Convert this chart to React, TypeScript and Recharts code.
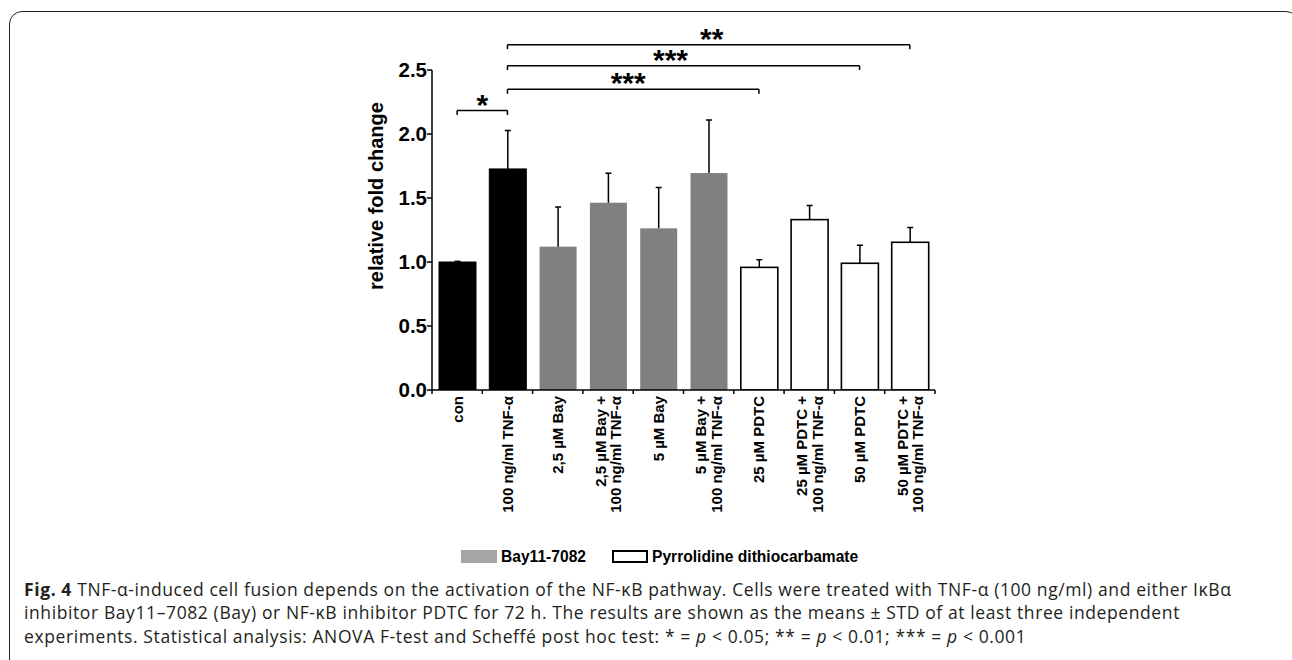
import React from 'react';
import { BarChart, Bar, XAxis, YAxis, ReferenceLine } from 'recharts';

const categories = [
  'con',
  '100 ng/ml TNF-α',
  '2,5 µM Bay',
  '2,5 µM Bay +\n100 ng/ml TNF-α',
  '5 µM Bay',
  '5 µM Bay +\n100 ng/ml TNF-α',
  '25 µM PDTC',
  '25 µM PDTC +\n100 ng/ml TNF-α',
  '50 µM PDTC',
  '50 µM PDTC +\n100 ng/ml TNF-α',
];
const means = [1.0, 1.727, 1.12, 1.463, 1.263, 1.695, 0.958, 1.331, 0.99, 1.154];
const stds = [0.005, 0.3, 0.31, 0.23, 0.32, 0.415, 0.06, 0.11, 0.14, 0.115];
const groups = ['control', 'control', 'bay', 'bay', 'bay', 'bay', 'pdtc', 'pdtc', 'pdtc', 'pdtc'];
const yTicks = [0, 0.5, 1.0, 1.5, 2.0, 2.5];

const sigFrom = [0, 1, 1, 1];
const sigTo = [1, 6, 8, 9];
const sigLevel = [2.183, 2.349, 2.534, 2.698];
const sigLabel = ['*', '***', '***', '**'];

const legendLabels = ['Bay11-7082', 'Pyrrolidine dithiocarbamate'];

const captionLines = [
  'TNF-α-induced cell fusion depends on the activation of the NF-κB pathway. Cells were treated with TNF-α (100 ng/ml) and either IκBα',
  'inhibitor Bay11–7082 (Bay) or NF-κB inhibitor PDTC for 72 h. The results are shown as the means ± STD of at least three independent',
];

const data = categories.map((c, i) => ({ name: c, value: means[i], err: stds[i], group: groups[i] }));

const FONT = '"Liberation Sans", Arial, Helvetica, sans-serif';
const CAP_FONT = '"Open Sans", "Noto Sans", sans-serif';

const CH_W = 1292;
const CH_H = 560;
const MARGIN = { top: 70, right: 357, bottom: 40, left: 372 };
const Y_W = 60;
const X_H = 130;
const PLOT_W = CH_W - MARGIN.left - MARGIN.right - Y_W;
const HALF_BAND = PLOT_W / categories.length / 2;
const sigDx = [0, -5, -13, 3];

const fills: Record<string, string> = { control: '#000000', bay: '#808080', pdtc: '#ffffff' };
const strokes: Record<string, string> = { control: '#000000', bay: 'none', pdtc: '#000000' };

const BarShape = (props: any) => {
  const { x, y, width, height, payload } = props;
  if (x == null || !payload) return null;
  const g = payload.group;
  const pxPerUnit = height / payload.value;
  const top = y - payload.err * pxPerUnit;
  const cx = x + width / 2;
  return (
    <g>
      <rect
        x={x}
        y={y}
        width={width}
        height={height}
        fill={fills[g]}
        stroke={strokes[g]}
        strokeWidth={g === 'pdtc' ? 1.6 : 1}
      />
      <line x1={cx} x2={cx} y1={y} y2={top} stroke="#000" strokeWidth={1.5} />
      <line x1={cx - 3} x2={cx + 3} y1={top} y2={top} stroke="#000" strokeWidth={1.5} />
    </g>
  );
};

const XTick = (props: any) => {
  const { x, y, payload, index } = props;
  const lines = String(payload.value).split('\n');
  const n = lines.length;
  const axisY = y - 6;
  return (
    <g>
      <line x1={x - HALF_BAND} x2={x - HALF_BAND} y1={axisY} y2={axisY + 4} stroke="#000" strokeWidth={1.5} />
      {index === categories.length - 1 && (
        <line x1={x + HALF_BAND} x2={x + HALF_BAND} y1={axisY} y2={axisY + 4} stroke="#000" strokeWidth={1.5} />
      )}
      <text
        transform={`rotate(-90, ${x}, ${y})`}
        textAnchor="end"
        fontFamily={FONT}
        fontWeight="bold"
        fontSize={15}
        fill="#000"
      >
        {lines.map((l, i) => (
          <tspan key={i} x={x} y={y + (i - (n - 1) / 2) * 15.5} dominantBaseline="central">
            {l}
          </tspan>
        ))}
      </text>
    </g>
  );
};

const YTitle = (props: any) => {
  const vb = props.viewBox || {};
  const x = (vb.x ?? 372) + (vb.width ?? 60) - 49;
  const y = 196;
  return (
    <text
      transform={`rotate(-90, ${x}, ${y})`}
      x={x}
      y={y}
      textAnchor="middle"
      fontFamily={FONT}
      fontWeight="bold"
      fontSize={20}
      fill="#000"
    >
      relative fold change
    </text>
  );
};

const makeSigLabel = (text: string, dx: number) => (p: any) => {
  const vb = p && p.viewBox;
  if (!vb) return null;
  return (
    <text
      x={vb.x + vb.width / 2 + dx}
      y={vb.y + 4}
      textAnchor="middle"
      fontFamily={FONT}
      fontWeight="bold"
      fontSize={30}
      fill="#000"
    >
      {text}
    </text>
  );
};

export default function App() {
  return (
    <div
      style={{
        position: 'absolute',
        left: 0,
        top: 0,
        width: 1292,
        height: 660,
        overflow: 'hidden',
        background: '#fff',
      }}
    >
      <div
        style={{
          position: 'absolute',
          left: 9,
          top: 11,
          width: 1290,
          height: 720,
          border: '1.5px solid #222',
          borderRadius: 13,
          boxSizing: 'border-box',
        }}
      />
      <div style={{ position: 'absolute', left: 0, top: 0 }}>
        <BarChart width={CH_W} height={CH_H} data={data} margin={MARGIN}>
          <XAxis
            dataKey="name"
            type="category"
            height={X_H}
            interval={0}
            tickLine={false}
            tickSize={4}
            tickMargin={2}
            axisLine={{ stroke: '#000', strokeWidth: 1.5 }}
            tick={<XTick />}
          />
          <YAxis
            type="number"
            domain={[0, 2.5]}
            ticks={yTicks}
            width={Y_W}
            tickSize={5}
            tickMargin={0}
            interval={0}
            allowDataOverflow
            axisLine={{ stroke: '#000', strokeWidth: 1.5 }}
            tickLine={{ stroke: '#000', strokeWidth: 1.5 }}
            tickFormatter={(v: number) => v.toFixed(1)}
            tick={{ fontSize: 20.5, fontWeight: 'bold', fill: '#000', fontFamily: FONT }}
            label={<YTitle />}
          />
          <Bar dataKey="value" barSize={37} isAnimationActive={false} shape={BarShape} />
          {sigFrom.map((f, i) => (
            <ReferenceLine
              key={`h${i}`}
              ifOverflow="visible"
              segment={[
                { x: categories[f], y: sigLevel[i] },
                { x: categories[sigTo[i]], y: sigLevel[i] },
              ]}
              stroke="#000"
              strokeWidth={1.5}
              label={makeSigLabel(sigLabel[i], sigDx[i])}
            />
          ))}
          {sigFrom.map((f, i) => (
            <ReferenceLine
              key={`a${i}`}
              ifOverflow="visible"
              segment={[
                { x: categories[f], y: sigLevel[i] },
                { x: categories[f], y: sigLevel[i] - 0.035 },
              ]}
              stroke="#000"
              strokeWidth={1.5}
            />
          ))}
          {sigFrom.map((f, i) => (
            <ReferenceLine
              key={`b${i}`}
              ifOverflow="visible"
              segment={[
                { x: categories[sigTo[i]], y: sigLevel[i] },
                { x: categories[sigTo[i]], y: sigLevel[i] - 0.035 },
              ]}
              stroke="#000"
              strokeWidth={1.5}
            />
          ))}
        </BarChart>
      </div>

      <div
        style={{
          position: 'absolute',
          left: 461,
          top: 550,
          display: 'flex',
          alignItems: 'center',
          fontFamily: FONT,
          fontWeight: 'bold',
          fontSize: 15.6,
          color: '#000',
          whiteSpace: 'nowrap',
        }}
      >
        <div style={{ width: 36, height: 13, background: '#a6a6a6', marginRight: 4 }} />
        <span style={{ lineHeight: '13px' }}>{legendLabels[0]}</span>
      </div>
      <div
        style={{
          position: 'absolute',
          left: 612,
          top: 550,
          display: 'flex',
          alignItems: 'center',
          fontFamily: FONT,
          fontWeight: 'bold',
          fontSize: 15.6,
          color: '#000',
          whiteSpace: 'nowrap',
        }}
      >
        <div style={{ width: 36, height: 13, background: '#fff', border: '2px solid #000', boxSizing: 'border-box', marginRight: 4 }} />
        <span style={{ lineHeight: '13px' }}>{legendLabels[1]}</span>
      </div>

      <div
        style={{
          position: 'absolute',
          left: 24,
          top: 578,
          fontFamily: CAP_FONT,
          fontSize: 17.5,
          letterSpacing: '0.6px',
          lineHeight: '23.4px',
          color: '#231f20',
          whiteSpace: 'nowrap',
        }}
      >
        <div>
          <b>Fig. 4</b> {captionLines[0]}
        </div>
        <div>{captionLines[1]}</div>
        <div>
          experiments. Statistical analysis: ANOVA F-test and Scheffé post hoc test: * = <i>p</i> &lt; 0.05; ** = <i>p</i> &lt; 0.01; *** = <i>p</i> &lt; 0.001
        </div>
      </div>
    </div>
  );
}
